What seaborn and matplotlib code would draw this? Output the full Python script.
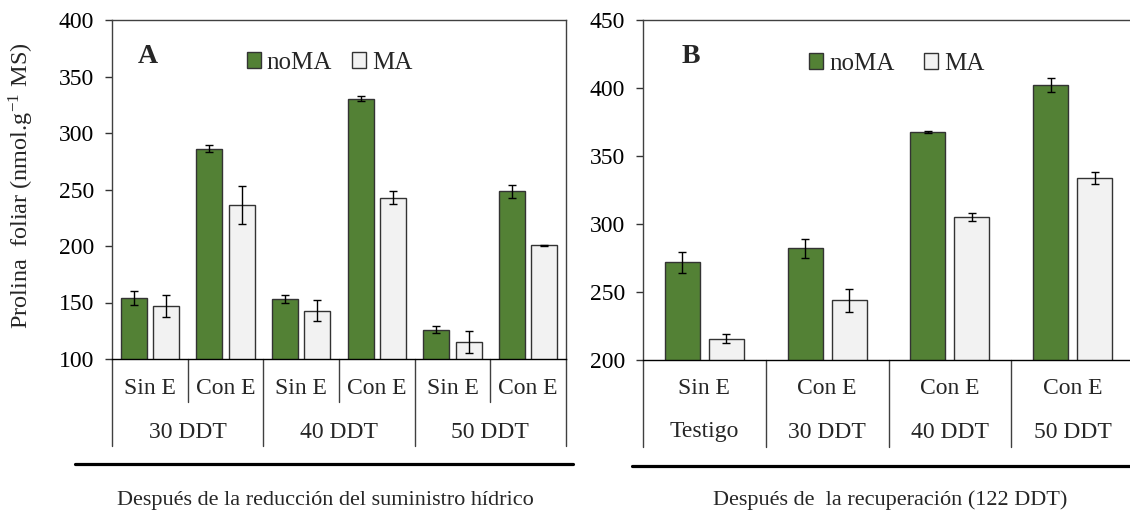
import numpy as np
import pandas as pd
import matplotlib
matplotlib.use("Agg")
import matplotlib.pyplot as plt
import matplotlib.transforms as mtransforms
from matplotlib.lines import Line2D
import seaborn as sns

# ---------------- data ----------------
A_sub = ["Sin E", "Con E", "Sin E", "Con E", "Sin E", "Con E"]
A_group = ["30 DDT", "40 DDT", "50 DDT"]
A_noMA = [154, 286, 153, 330.5, 126, 248.5]
A_noMA_err = [6.0, 3.2, 3.2, 2.4, 3.2, 5.6]
A_MA = [147, 236.5, 142.7, 242.8, 115, 200.6]
A_MA_err = [9.6, 16.8, 9.5, 5.5, 9.6, 0.6]

B_sub = ["Sin E", "Con E", "Con E", "Con E"]
B_group = ["Testigo", "30 DDT", "40 DDT", "50 DDT"]
B_noMA = [272, 282, 367.8, 402.2]
B_noMA_err = [7.7, 7.3, 0.8, 5.4]
B_MA = [215.7, 243.9, 305.3, 333.8]
B_MA_err = [3.3, 8.5, 3.1, 4.6]

series = ["noMA", "MA"]
A_yticks = [100, 150, 200, 250, 300, 350, 400]
B_yticks = [200, 250, 300, 350, 400, 450]

GREEN = "#538135"
LIGHT = "#F2F2F2"

sns.set_theme(style="ticks")
plt.rcParams["font.family"] = ["Liberation Serif", "DejaVu Serif"]
plt.rcParams["mathtext.fontset"] = "stix"

fig = plt.figure(figsize=(11.3, 5.16), dpi=100)
W, H = 1130.0, 516.0


def fx(px):
    return px / W


def fy(py):
    return 1 - py / H


axA = fig.add_axes([fx(112), fy(359), 454 / W, 339 / H])
axB = fig.add_axes([fx(643), fy(360), 491 / W, 340 / H])


def make_df(noma, ma):
    n = len(noma)
    cats = [f"c{i}" for i in range(n)]
    df = pd.DataFrame({
        "cat": cats * 2,
        "val": list(noma) + list(ma),
        "trat": [series[0]] * n + [series[1]] * n,
    })
    return df, cats


def draw_panel(ax, noma, noma_err, ma, ma_err, width, yticks, letter, leg_x, colspacing):
    df, cats = make_df(noma, ma)
    sns.barplot(data=df, x="cat", y="val", hue="trat", order=cats,
                hue_order=series, palette=[GREEN, LIGHT], saturation=1,
                width=width, gap=0.205, errorbar=None, ax=ax,
                edgecolor="#333333", linewidth=1.0)
    # error bars at the library's bar positions
    for cont, errs in zip(ax.containers, [noma_err, ma_err]):
        xs = [b.get_x() + b.get_width() / 2 for b in cont]
        ys = [b.get_height() for b in cont]
        ax.errorbar(xs, ys, yerr=errs, fmt="none", ecolor="black",
                    elinewidth=1.0, capsize=2.8, capthick=1.0, zorder=5)
    ax.set_ylim(yticks[0], yticks[-1])
    ax.set_yticks(yticks)
    ax.set_xlim(-0.5, len(cats) - 0.5)
    ax.set_xticks([])
    ax.set_xlabel("")
    ax.set_ylabel("")
    ax.tick_params(axis="y", labelsize=17, direction="out", length=5,
                   width=1, color="#333333", pad=8, labelcolor="black")
    for s in ["top", "right", "left"]:
        ax.spines[s].set_visible(True)
        ax.spines[s].set_color("#404040")
        ax.spines[s].set_linewidth(1.0)
    ax.spines["bottom"].set_color("black")
    ax.spines["bottom"].set_linewidth(1.0)
    ax.text(*letter[1:], letter[0], transform=ax.transAxes, fontsize=20,
            fontweight="bold", ha="center", va="center")
    handles, labels = ax.get_legend_handles_labels()
    if ax.get_legend() is not None:
        ax.get_legend().remove()
    ax.legend(handles, labels, loc="center left", bbox_to_anchor=leg_x,
              ncol=2, frameon=False, fontsize=18, handlelength=0.55,
              handleheight=0.6, handletextpad=0.25, columnspacing=colspacing,
              borderpad=0, borderaxespad=0)


draw_panel(axA, A_noMA, A_noMA_err, A_MA, A_MA_err, 0.856, A_yticks,
           ("A", 0.079, 0.893), (0.297, 0.873), 0.8)
draw_panel(axB, B_noMA, B_noMA_err, B_MA, B_MA_err, 0.716, B_yticks,
           ("B", 0.098, 0.893), (0.338, 0.870), 1.2)

LC = "#404040"


def vline(ax, x, y0, y1):
    tr = mtransforms.blended_transform_factory(ax.transData, ax.transAxes)
    ax.add_line(Line2D([x, x], [y0, y1], transform=tr, color=LC, lw=1.0,
                       clip_on=False))


def label(ax, x, y, s):
    tr = mtransforms.blended_transform_factory(ax.transData, ax.transAxes)
    ax.text(x, y, s, transform=tr, ha="center", va="center", fontsize=17)


# panel A category table
hA = 339.0
r1A, r2A = -29 / hA, -73 / hA
innerA, outerA = -43 / hA, -87 / hA
for i, s in enumerate(A_sub):
    label(axA, i, r1A, s)
for g, s in enumerate(A_group):
    label(axA, 2 * g + 0.5, r2A, s)
for k in range(len(A_sub) + 1):
    x = k - 0.5
    vline(axA, x, 0, outerA if k % 2 == 0 else innerA)

# panel B category table
hB = 340.0
r1B, r2B = -28 / hB, -72 / hB
outerB = -87 / hB
for i, s in enumerate(B_sub):
    label(axB, i, r1B, s)
for i, s in enumerate(B_group):
    label(axB, i, r2B, s)
for k in range(len(B_sub) + 1):
    vline(axB, k - 0.5, 0, outerB)

# y label
fig.text(fx(21), fy(186), "Prolina  foliar (nmol.g$^{\\mathregular{-1}}$ MS)",
         rotation=90, ha="center", va="center", fontsize=17.5)

# thick separators and bottom titles
fig.add_artist(Line2D([fx(75), fx(573)], [fy(464), fy(464)], color="black", lw=2.3))
fig.add_artist(Line2D([fx(632), fx(1130)], [fy(466), fy(466)], color="black", lw=2.3))
fig.text(fx(325), fy(500), "Después de la reducción del suministro hídrico",
         ha="center", va="center", fontsize=16)
fig.text(fx(890), fy(500), "Después de  la recuperación (122 DDT)",
         ha="center", va="center", fontsize=16)

fig.savefig("out.png", dpi=100)
